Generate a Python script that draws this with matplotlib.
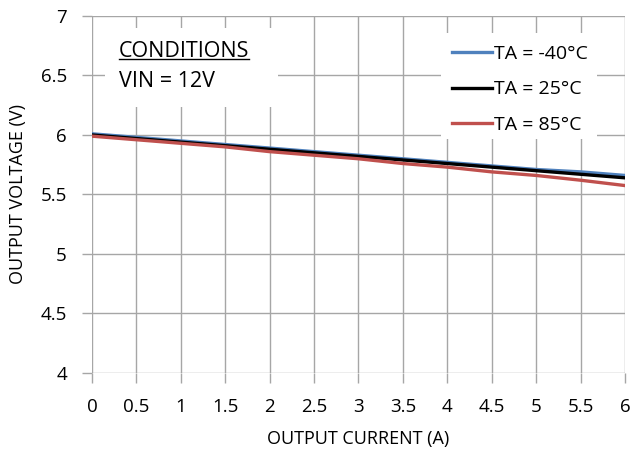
import matplotlib
matplotlib.use('Agg')
import matplotlib.pyplot as plt
from matplotlib.patches import Rectangle

plt.rcParams['font.family'] = ['Open Sans', 'DejaVu Sans']

# Data
current = [0, 0.5, 1, 1.5, 2, 2.5, 3, 3.5, 4, 4.5, 5, 5.5, 6]
v_m40 = [6.01, 5.98, 5.95, 5.92, 5.89, 5.86, 5.83, 5.80, 5.77, 5.74, 5.71, 5.69, 5.66]
v_25 = [6.00, 5.97, 5.94, 5.91, 5.88, 5.85, 5.82, 5.79, 5.76, 5.73, 5.70, 5.67, 5.64]
v_85 = [5.99, 5.96, 5.93, 5.90, 5.86, 5.83, 5.80, 5.76, 5.73, 5.69, 5.66, 5.62, 5.575]

x_ticks = [0, 0.5, 1, 1.5, 2, 2.5, 3, 3.5, 4, 4.5, 5, 5.5, 6]
x_labels = ['0', '0.5', '1', '1.5', '2', '2.5', '3', '3.5', '4', '4.5', '5', '5.5', '6']
y_ticks = [4, 4.5, 5, 5.5, 6, 6.5, 7]
y_labels = ['4', '4.5', '5', '5.5', '6', '6.5', '7']

grid_c = '#a6a6a6'

fig = plt.figure(figsize=(6.34, 4.59), dpi=100)
ax = fig.add_axes([0.145, 0.1874, 0.8407, 0.7778])

ax.plot(current, v_m40, color='#4f81bd', lw=2.4, label='TA = -40°C', zorder=3)
ax.plot(current, v_25, color='#000000', lw=2.4, label='TA = 25°C', zorder=4)
ax.plot(current, v_85, color='#c0504d', lw=2.4, label='TA = 85°C', zorder=5)

ax.set_xlim(0, 6)
ax.set_ylim(4, 7)
ax.set_xticks(x_ticks)
ax.set_xticklabels(x_labels)
ax.set_yticks(y_ticks)
ax.set_yticklabels(y_labels)
ax.grid(True, color=grid_c, lw=1)
ax.set_axisbelow(True)
for s in ax.spines.values():
    s.set_visible(False)
ax.tick_params(axis='both', colors=grid_c, labelcolor='black', labelsize=13.5,
               length=7, width=1, direction='out')
ax.tick_params(axis='x', pad=11)
ax.tick_params(axis='y', pad=11)

ax.set_xlabel('OUTPUT CURRENT (A)', fontsize=13, labelpad=10)
ax.set_ylabel('OUTPUT VOLTAGE (V)', fontsize=13, labelpad=10)

# white boxes behind the conditions text and the legend
ax.add_patch(Rectangle((0.146, 6.235), 2.094 - 0.146, 6.899 - 6.235,
                       facecolor='white', edgecolor='none', zorder=2))
ax.add_patch(Rectangle((3.93, 5.966), 5.685 - 3.93, 6.857 - 5.966,
                       facecolor='white', edgecolor='none', zorder=2))

t1 = ax.text(0.304, 6.655, 'CONDITIONS', fontsize=15.5, ha='left', va='baseline', zorder=6)
ax.text(0.304, 6.403, 'VIN = 12V', fontsize=15.5, ha='left', va='baseline', zorder=6)

# underline under CONDITIONS
fig.canvas.draw()
bb = t1.get_window_extent().transformed(ax.transData.inverted())
ax.plot([bb.x0, bb.x1], [6.639, 6.639], color='black', lw=1, zorder=7)

leg = ax.legend(loc='upper left', bbox_to_anchor=(452 / 634, 1 - 45 / 459),
                bbox_transform=fig.transFigure, fontsize=14, frameon=False,
                handlelength=2.06, handletextpad=0.12, labelspacing=0.9, borderpad=0,
                borderaxespad=0)
leg.set_zorder(8)

fig.savefig('out.png', dpi=100)
